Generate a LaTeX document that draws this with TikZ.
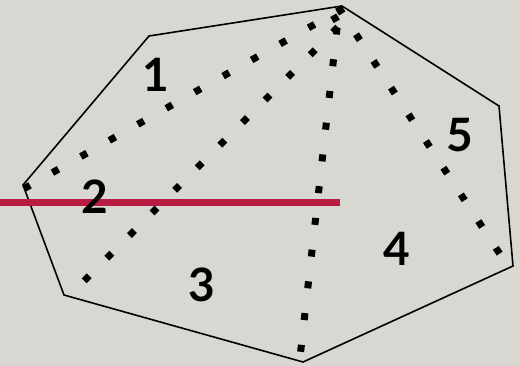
\documentclass[tikz,border=0pt]{standalone}
\usepackage{fontspec}
\setmainfont{Lato}
\definecolor{bgc}{RGB}{217,215,210}
\definecolor{redc}{RGB}{185,28,67}
\begin{document}
\begin{tikzpicture}[x=1pt,y=-1pt,
  poly/.style={line width=1.6pt, line join=miter},
  dotline/.style={line width=7pt, line cap=butt, shorten <=-3.5pt, shorten >=-3.5pt},
  dotsq/.style={fill=black, minimum size=7pt, inner sep=0pt, rectangle},
  lbl/.style={font=\bfseries\fontsize{46}{46}\selectfont, inner sep=0pt}]
\fill[bgc] (0,0) rectangle (520,366);
\useasboundingbox (0,0) rectangle (520,366);
% polygon vertices
\coordinate (A) at (149,36);
\coordinate (B) at (342,6);
\coordinate (C) at (499,106);
\coordinate (D) at (513,266);
\coordinate (E) at (303,362);
\coordinate (F) at (64,295);
\coordinate (G) at (23,185);
\draw[poly] (A) -- (B) -- (C) -- (D) -- (E) -- (F) -- (G) -- cycle;
% red line
\coordinate (r0) at (0,202.7);
\coordinate (r1) at (340,202.7);
\draw[redc, line width=6.5pt] (r0) -- (r1);
% dotted diagonals
\coordinate (s1) at (340,10);     \coordinate (e1) at (27,187);
\coordinate (s2) at (335.3,29.7); \coordinate (e2) at (86.7,278.3);
\coordinate (s3) at (336.7,31);   \coordinate (e3) at (301,348.3);
\coordinate (s4) at (340.5,10.5); \coordinate (e4) at (497.7,250.7);
\draw[dotline, dash pattern=on 7pt off 25.69pt] (s1) -- (e1);
\draw[dotline, dash pattern=on 7pt off 24.96pt] (s2) -- (e2);
\draw[dotline, dash pattern=on 7pt off 24.93pt] (s3) -- (e3);
\draw[dotline, dash pattern=on 7pt off 24.90pt] (s4) -- (e4);
\node[dotsq, rotate=30] (x1) at (335,18.3) {};
% labels
\node[lbl] (l1) at (156,74.5) {1};
\node[lbl] (l2) at (95,197) {2};
\node[lbl] (l3) at (202,285) {3};
\node[lbl] (l4) at (397,249) {4};
\node[lbl] (l5) at (460,135) {5};
\end{tikzpicture}
\end{document}
